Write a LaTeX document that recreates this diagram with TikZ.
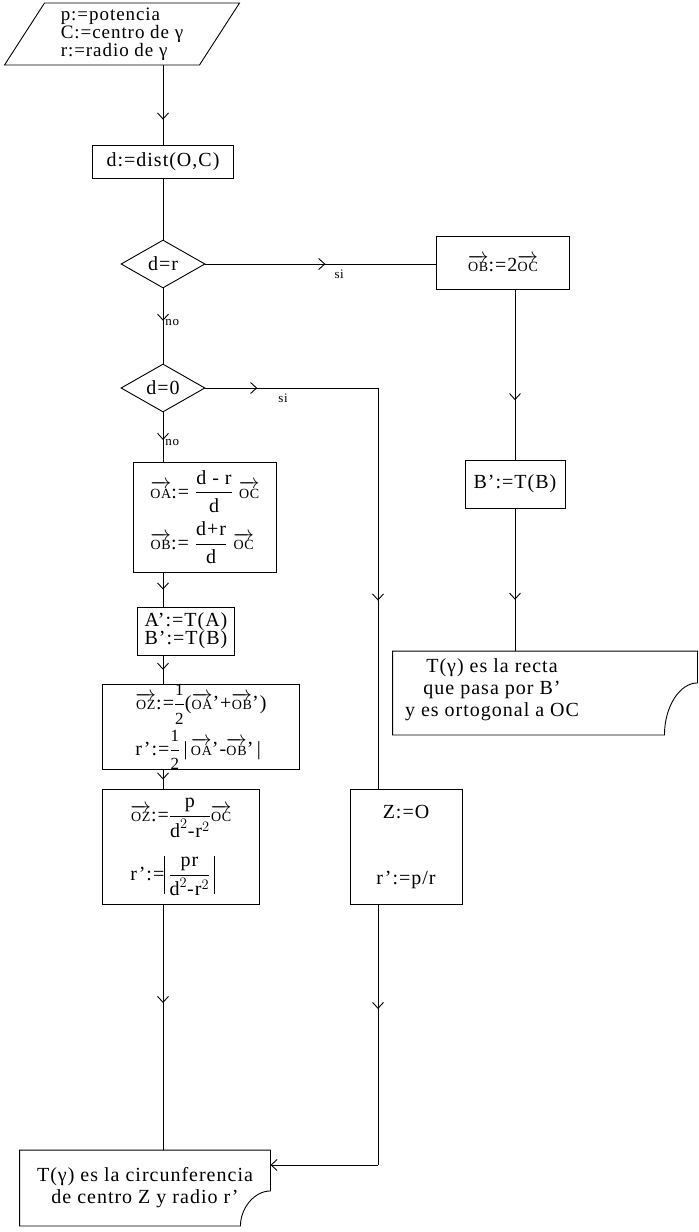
\documentclass[tikz,border=0pt]{standalone}
\usepackage{amsmath}
\usepackage{fontspec}
\setmainfont{Liberation Serif}[LetterSpace=5]
\usetikzlibrary{shapes.geometric, arrows.meta, decorations.markings, positioning, calc}
\newcommand{\ovec}[1]{$\overrightarrow{\text{\fontsize{14}{14}\selectfont #1}}$}
\newcommand{\tx}[1]{\text{#1}}
\newcommand{\absbar}{\rule[-14pt]{0.8pt}{38pt}}
\newcommand{\half}{$\dfrac{\tx{\fontsize{17}{17}\selectfont 1}}{\tx{\fontsize{17}{17}\selectfont 2}}$}

\begin{document}
\begin{tikzpicture}[x=1pt, y=-1pt, line width=0.9pt,
  every node/.style={font=\fontsize{20}{22}\selectfont},
  box/.style={draw, rectangle, inner sep=2pt, align=center},
  lbox/.style={box, align=left, inner xsep=8pt},
  dec/.style={draw, diamond, inner sep=0pt, minimum width=84pt, minimum height=48pt},
  inbox/.style={draw, trapezium, trapezium left angle=54, trapezium right angle=126,
    trapezium stretches body, align=left, inner sep=1pt, minimum width=235pt, minimum height=62pt,
    font=\fontsize{19}{17}\selectfont},
  doc/.style={rectangle, inner sep=0pt, align=center},
  flow/.style={decoration={markings, mark=at position #1 with {\arrow{Straight Barb[length=6pt,width=11pt]}}},
    postaction={decorate}},
  flow/.default=0.5,
  lbl/.style={font=\fontsize{13}{13}\selectfont, inner sep=1pt}
]
\useasboundingbox (0,0) rectangle (699,1232);

\node[inbox] (inp) at (122,34) {p:=potencia\\C:=centro de γ\\r:=radio de γ};
\node[box, minimum width=141pt, minimum height=33pt] (dist) at (163,162) {d:=dist(O,C)};
\node[dec] (dr) at (163,264) {d=r};
\node[box, minimum width=133pt, minimum height=53pt] (ob2) at (503,263) {\ovec{OB}:=2\ovec{OC}};
\node[dec] (d0) at (163,388) {d=0};
\node[lbox, minimum width=143pt, minimum height=110pt] (oaob) at (205,517)
  {\ovec{OA}:= $\dfrac{\tx{d - r}}{\tx{d}}$ \ovec{OC}\\[8pt]
   \ovec{OB}:= $\dfrac{\tx{d+r}}{\tx{d}}$ \ovec{OC}};
\node[box, minimum width=97pt, minimum height=48pt] (ab) at (186,631) {A':=T(A)\\[-4pt]B':=T(B)};
\node[lbox, inner ysep=0pt, minimum width=197pt, minimum height=75pt] (oz1) at (201,727)
  {\ovec{OZ}:=\half(\ovec{OA}'+\ovec{OB}')\\[5pt]
   r':=\half\,|\,\ovec{OA}'-\ovec{OB}'\,|};
\node[lbox, minimum width=157pt, minimum height=115pt] (oz2) at (181,847)
  {\ovec{OZ}:=$\dfrac{\tx{p}}{\tx{d}^2\tx{-r}^2}$\ovec{OC}\\[18pt]
   r':=\absbar\,$\dfrac{\tx{pr}}{\tx{d}^2\tx{-r}^2}$\,\absbar};
\node[box, minimum width=112pt, minimum height=115pt] (zo) at (406,847) {Z:=O\\[44pt]r':=p/r};
\node[box, minimum width=100pt, minimum height=48pt] (bb) at (515,484) {B':=T(B)};

\node[doc, minimum width=250pt, minimum height=75pt] (circ) at (145,1188)
  {T(γ) es la circunferencia\\de centro Z y radio r'};
\draw (circ.north west) -- (circ.north east) -- ([yshift=35pt]circ.south east)
  .. controls ([xshift=-16pt,yshift=35pt]circ.south east) and ([xshift=-30pt,yshift=18pt]circ.south east)
  .. ([xshift=-30pt]circ.south east) -- (circ.south west) -- cycle;

\node[doc, minimum width=304pt, minimum height=83pt] (recta) at (545,693) {};
\node[doc] (rtext) at (492,690) {T(γ) es la recta\\que pasa por B'\\y es ortogonal a OC};
\draw (recta.north west) -- (recta.north east) -- ([yshift=52pt]recta.south east)
  .. controls ([xshift=-18pt,yshift=52pt]recta.south east) and ([xshift=-33pt,yshift=28pt]recta.south east)
  .. ([xshift=-33pt]recta.south east) -- (recta.south west) -- cycle;

\coordinate (c1) at (378,388);
\coordinate (c2) at (378,1165);

\draw[flow=0.68] (dist |- inp.south) -- (dist.north);
\draw (dist) -- (dr);
\draw[flow=0.52] (dr.east) -- (dr.east -| ob2.west) node[lbl, pos=0.58, below=4pt] (si1) {si};
\draw[flow=0.65] (bb |- ob2.south) -- (bb.north);
\draw[flow=0.64] (bb.south) -- (bb |- recta.north);
\draw[flow=0.43] (dr.south) -- (d0.north) node[lbl, pos=0.45, right=1pt] (no1) {no};
\draw[flow=0.3] (d0.east) -- (c1) node[lbl, pos=0.45, below=4pt] (si2) {si};
\draw[flow=0.53] (c1) -- (c1 |- zo.north);
\draw[flow=0.56] (d0.south) -- (d0 |- oaob.north) node[lbl, pos=0.62, right=1pt] (no2) {no};
\draw[flow] (d0 |- oaob.south) -- (d0 |- ab.north);
\draw[flow] (d0 |- ab.south) -- (d0 |- oz1.north);
\draw[flow] (d0 |- oz1.south) -- (d0 |- oz2.north);
\draw[flow=0.4] (d0 |- oz2.south) -- (d0 |- circ.north);
\draw[flow=0.4] (c1 |- zo.south) -- (c2);
\draw[-{Straight Barb[length=6pt,width=11pt]}] (c2) -- (c2 -| circ.east);
\end{tikzpicture}
\end{document}
